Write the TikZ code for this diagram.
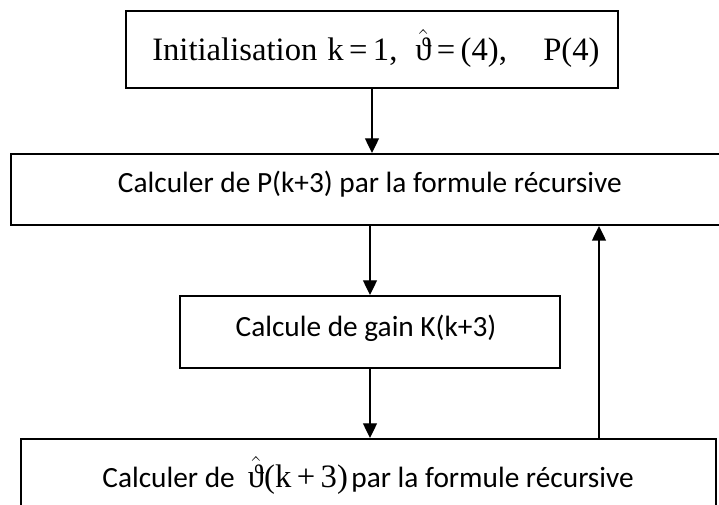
\documentclass[tikz,border=0pt]{standalone}
\usepackage{fontspec}
\setmainfont{Liberation Serif}
\newfontfamily\calfont{Carlito}
\usetikzlibrary{arrows.meta}
\begin{document}
\begin{tikzpicture}[x=0.75pt,y=-0.75pt,
  box/.style={draw,line width=1.5pt,inner sep=0pt,rectangle},
  lbl/.style={inner sep=0pt},
  arr/.style={line width=1pt,-{Triangle[length=11pt,width=10.5pt]}},
  serifsize/.style={font=\fontsize{24.5pt}{30pt}\selectfont},
  sanssize/.style={font=\calfont\fontsize{22pt}{26pt}\selectfont}]
\useasboundingbox (0,0) rectangle (719,505);
\clip (0,0) rectangle (719,505);
% boxes
\node[box,minimum width=369pt,minimum height=57.75pt] (init) at (372,49.5) {};
\node[box,minimum width=532.5pt,minimum height=53.25pt] (calcP) at (366,189.5) {};
\node[box,minimum width=285pt,minimum height=54pt] (gain) at (370,332) {};
\node[box,minimum width=521.25pt,minimum height=60.75pt] (theta) at (368.5,479.5) {};
% texts
\node[lbl,serifsize,anchor=base west] (t1) at (152,61) {\makebox[131.25pt][l]{Initialisation}\makebox[66pt][l]{k\,=\,1,}\makebox[96pt][l]{$\hat{\mbox{ϑ}}$\,=\,(4),}P(4)};
\node[lbl,sanssize,anchor=base east] (t2) at (622,193) {Calculer de P(k+3) par la formule récursive};
\node[lbl,sanssize,anchor=base] (t3) at (366,337) {Calcule de gain K(k+3)};
\node[lbl,sanssize,anchor=base east] (t4) at (634,488) {Calculer de\hspace{0.45em}{\rmfamily\fontsize{24.5pt}{30pt}\selectfont$\hat{\mbox{ϑ}}$(k\,+\,3)}\hspace{0.12em}par la formule récursive};
% connectors
\coordinate (fb) at (599,0);
\draw[arr] (init.south) -- (init.south |- calcP.north);
\draw[arr] (gain.north |- calcP.south) -- (gain.north);
\draw[arr] (gain.south) -- (gain.south |- theta.north);
\draw[arr] (theta.north -| fb) -- (calcP.south -| fb);
\end{tikzpicture}
\end{document}
